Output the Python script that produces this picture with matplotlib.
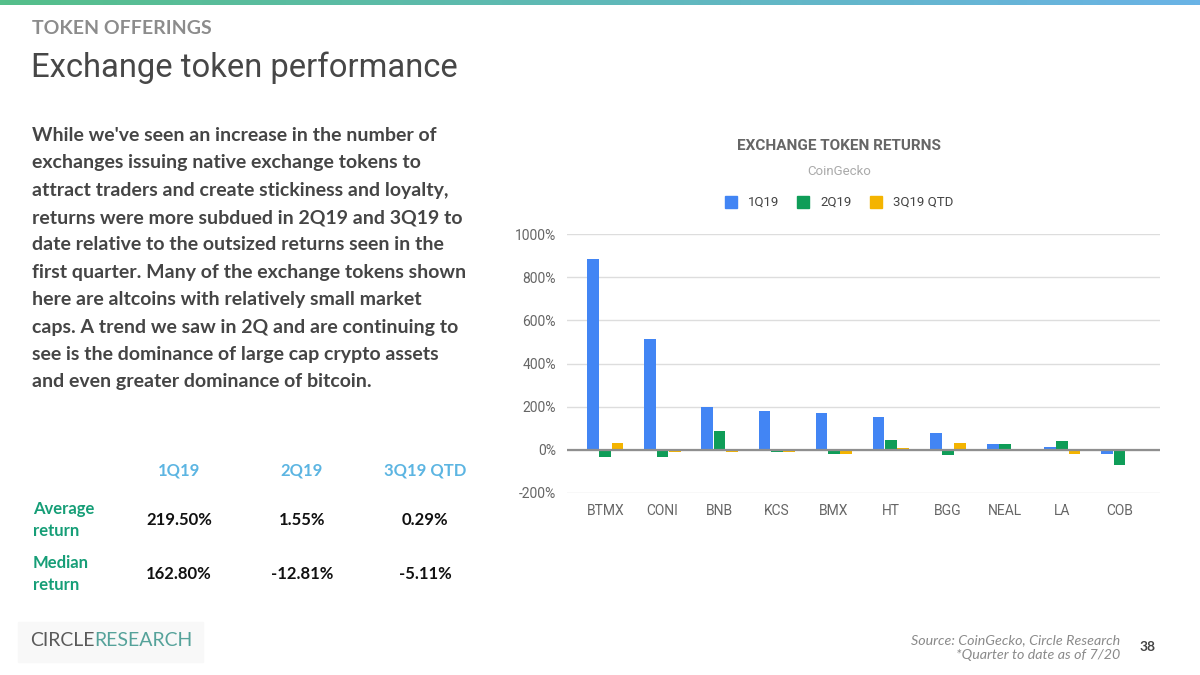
import numpy as np
import matplotlib
matplotlib.use("Agg")
from matplotlib import pyplot as plt
from matplotlib.colors import LinearSegmentedColormap

# data (percent returns)
tokens = ["BTMX", "CONI", "BNB", "KCS", "BMX", "HT", "BGG", "NEAL", "LA", "COB"]
q1_returns = [883, 514, 198, 180, 171, 154, 77, 28, 14, -18]
q2_returns = [-34, -34, 88, -8, -17, 45, -22, 28, 40, -71]
q3_returns = [32, -8, -9, -8, -17, 7, 30, -3, -17, 0]
series_names = ["1Q19", "2Q19", "3Q19 QTD"]
y_ticks = [-200, 0, 200, 400, 600, 800, 1000]

# summary table
table_cols = ["1Q19", "2Q19", "3Q19 QTD"]
table_rows = ["Average\nreturn", "Median\nreturn"]
table_vals = [["219.50%", "1.55%", "0.29%"],
              ["162.80%", "-12.81%", "-5.11%"]]

paragraph = ("While we've seen an increase in the number of\n"
             "exchanges issuing native exchange tokens to\n"
             "attract traders and create stickiness and loyalty,\n"
             "returns were more subdued in 2Q19 and 3Q19 to\n"
             "date relative to the outsized returns seen in the\n"
             "first quarter. Many of the exchange tokens shown\n"
             "here are altcoins with relatively small market\n"
             "caps. A trend we saw in 2Q and are continuing to\n"
             "see is the dominance of large cap crypto assets\n"
             "and even greater dominance of bitcoin.")

colors = ["#4285F4", "#0F9D58", "#F4B400"]

W, H = 1200, 675
fig = plt.figure(figsize=(12, 6.75), dpi=100)

def fx(x):
    return x / W

def fy(y):
    return 1 - y / H

# gradient strip on top
top = fig.add_axes([0, fy(5), 1, 5 / H])
grad = LinearSegmentedColormap.from_list("g", ["#55bf8a", "#6ab3e6"])
top.imshow(np.linspace(0, 1, 256)[None, :], aspect="auto", cmap=grad)
top.axis("off")

# headings
fig.text(fx(32), fy(28), "TOKEN OFFERINGS", fontsize=14, fontweight="bold",
         color="#8c8c8c", family="Lato", va="center")
fig.text(fx(31), fy(68), "Exchange token performance", fontsize=23.6,
         color="#474747", family="Roboto", va="center")

# paragraph
fig.text(fx(32), fy(127), paragraph, fontsize=14, fontweight="bold",
         color="#454545", family="Lato", va="top", linespacing=1.74)

# table
col_x = [179, 302, 425]
for cx, name in zip(col_x, table_cols):
    fig.text(fx(cx), fy(470), name, fontsize=12, fontweight="bold",
             color="#5cb5e2", family="Lato", ha="center", va="center")
row_y = [520, 574]
for ry, lab, vals in zip(row_y, table_rows, table_vals):
    fig.text(fx(33), fy(ry), lab, fontsize=12, fontweight="bold",
             color="#169e77", family="Lato", va="center", linespacing=1.5)
    for cx, v in zip(col_x, vals):
        fig.text(fx(cx), fy(ry), v, fontsize=12, fontweight="bold",
                 color="#111111", family="Lato", ha="center", va="center")

# logo
fig.patches.append(plt.Rectangle((fx(18), fy(662)), 185 / W, 40 / H,
                                 transform=fig.transFigure, color="#f8f8f8", zorder=0))
t1 = fig.text(fx(30), fy(641), "CIRCLE", fontsize=14,
              color="#5a5a5a", family="Lato", va="center")
fig.canvas.draw()
bb = t1.get_window_extent()
fig.text(bb.x1 / W, fy(641), "RESEARCH", fontsize=14,
         color="#55a29a", family="Lato", va="center")

# footer
fig.text(fx(1120), fy(640), "Source: CoinGecko, Circle Research", fontsize=10.3,
         style="italic", color="#8a8a8a", family="Lato", ha="right", va="center")
fig.text(fx(1120), fy(655), "*Quarter to date as of 7/20", fontsize=10.3,
         style="italic", color="#8a8a8a", family="Lato", ha="right", va="center")
fig.text(fx(1148), fy(647), "38", fontsize=10, fontweight="bold",
         color="#444444", family="Lato", ha="center", va="center")

# chart title and legend
fig.text(fx(839), fy(146), "EXCHANGE TOKEN RETURNS", fontsize=11, fontweight="bold",
         color="#666666", family="Roboto", ha="center", va="center")
fig.text(fx(839), fy(171), "CoinGecko", fontsize=9.5, color="#aaaaaa",
         family="Roboto", ha="center", va="center")
leg_x = [725, 797, 870]
for lx, name, c in zip(leg_x, series_names, colors):
    fig.patches.append(plt.Rectangle((fx(lx), fy(208)), 12 / W, 12 / H,
                                     transform=fig.transFigure, color=c))
    fig.text(fx(lx + 23), fy(202), name, fontsize=9.5, color="#444444",
             family="Roboto", va="center")

# bar chart
ax = fig.add_axes([fx(567), fy(493), (1160 - 567) / W, (493 - 234) / H])
x = np.arange(len(tokens))
bw = 0.205
for i, (vals, c) in enumerate(zip([q1_returns, q2_returns, q3_returns], colors)):
    ax.bar(x + (i - 1) * 0.215, vals, width=bw, color=c, zorder=3)

ax.set_ylim(-200, 1000)
ax.set_xlim(-0.67, 9.71)
ax.set_yticks(y_ticks)
ax.set_yticklabels([f"{v}%" for v in y_ticks])
ax.set_xticks(x)
ax.set_xticklabels(tokens)
ax.grid(axis="y", color="#dddddd", linewidth=1, zorder=0)
ax.axhline(0, color="#8f8f8f", linewidth=1.6, zorder=4)
for s in ax.spines.values():
    s.set_visible(False)
ax.tick_params(length=0, labelsize=10, labelcolor="#666666", pad=8)
for lab in ax.get_xticklabels() + ax.get_yticklabels():
    lab.set_family("Roboto")

fig.savefig("out.png", dpi=100)
